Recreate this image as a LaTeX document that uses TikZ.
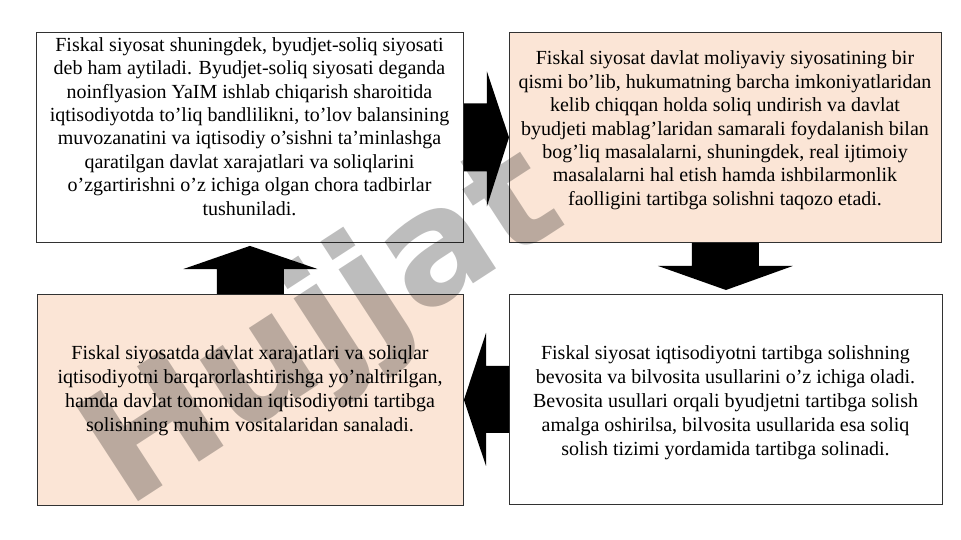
\documentclass[tikz,border=0pt]{standalone}
\usepackage{fontspec}
\setmainfont{Liberation Serif}
\newfontfamily\wmfont{DejaVu Sans}
\usetikzlibrary{calc}
\definecolor{peachc}{RGB}{251,229,214}
\definecolor{edgec}{RGB}{50,50,50}
\begin{document}
\begin{tikzpicture}[x=1pt,y=-1pt,
  box/.style={draw=edgec, line width=0.9pt, anchor=north west, inner sep=0pt, minimum height=210pt},
  txttop/.style={font=\fontsize{20}{23.4}\selectfont, align=center, inner sep=0pt, anchor=base},
  txtbot/.style={font=\fontsize{20}{24}\selectfont, align=center, inner sep=0pt, anchor=base},
  blockarrow/.style={fill=black}]
\useasboundingbox (0,0) rectangle (961,540);
\fill[white] (0,0) rectangle (961,540);
% boxes
\node[box, fill=white, minimum width=427pt] (b1) at (36,32) {};
\node[box, fill=peachc, minimum width=432pt] (b2) at (509,32) {};
\node[box, fill=peachc, minimum width=426pt, minimum height=211pt] (b3) at (37,294) {};
\node[box, fill=white, minimum width=433pt] (b4) at (509,294) {};
% watermark
\node[font=\wmfont\bfseries\fontsize{156}{156}\selectfont, text=black, text opacity=0.26, rotate=33, inner sep=0pt] (wm) at (325,330) {Hujjat};
% texts (base anchor = baseline of the last line)
\node[txttop] (t1) at (249.5,215.1) {Fiskal siyosat shuningdek, byudjet-soliq siyosati\\
deb ham aytiladi. Byudjet-soliq siyosati deganda\\
noinflyasion YaIM ishlab chiqarish sharoitida\\
iqtisodiyotda to’liq bandlilikni, to’lov balansining\\
muvozanatini va iqtisodiy o’sishni ta’minlashga\\
qaratilgan davlat xarajatlari va soliqlarini\\
o’zgartirishni o’z ichiga olgan chora tadbirlar\\
tushuniladi.};
\node[txttop] (t2) at (725,205.4) {Fiskal siyosat davlat moliyaviy siyosatining bir\\
qismi bo’lib, hukumatning barcha imkoniyatlaridan\\
kelib chiqqan holda soliq undirish va davlat\\
byudjeti mablag’laridan samarali foydalanish bilan\\
bog’liq masalalarni, shuningdek, real ijtimoiy\\
masalalarni hal etish hamda ishbilarmonlik\\
faolligini tartibga solishni taqozo etadi.};
\node[txtbot] (t3) at (250,431.7) {Fiskal siyosatda davlat xarajatlari va soliqlar\\
iqtisodiyotni barqarorlashtirishga yo’naltirilgan,\\
hamda davlat tomonidan iqtisodiyotni tartibga\\
solishning muhim vositalaridan sanaladi.};
\node[txtbot] (t4) at (725.5,455.3) {Fiskal siyosat iqtisodiyotni tartibga solishning\\
bevosita va bilvosita usullarini o’z ichiga oladi.\\
Bevosita usullari orqali byudjetni tartibga solish\\
amalga oshirilsa, bilvosita usullarida esa soliq\\
solish tizimi yordamida tartibga solinadi.};
% block arrows
% b1 -> b2 (right)
\fill[blockarrow] ($(b1.east)+(0,-34)$) -- ($(b1.east)+(23,-34)$) -- ($(b1.east)+(23,-66)$)
  -- (b2.west) -- ($(b1.east)+(23,69)$) -- ($(b1.east)+(23,34)$) -- ($(b1.east)+(0,34)$) -- cycle;
% b2 -> b4 (down)
\fill[blockarrow] ($(b2.south)+(-33.5,0)$) -- ($(b2.south)+(33.5,0)$) -- ($(b2.south)+(33.5,23)$)
  -- ($(b2.south)+(67.5,23)$) -- ($(b4.north)+(0,-4)$) -- ($(b2.south)+(-67.5,23)$)
  -- ($(b2.south)+(-33.5,23)$) -- cycle;
% b4 -> b3 (left)
\fill[blockarrow] ($(b4.west)+(0,-33.5)$) -- ($(b4.west)+(-23,-33.5)$) -- ($(b4.west)+(-23,-66.5)$)
  -- (b3.east) -- ($(b4.west)+(-23,66.5)$) -- ($(b4.west)+(-23,33.5)$) -- ($(b4.west)+(0,33.5)$) -- cycle;
% b3 -> b1 (up)
\fill[blockarrow] ($(b3.north)+(-33.5,0)$) -- ($(b3.north)+(-33.5,-25)$) -- ($(b3.north)+(-67,-25)$)
  -- ($(b1.south)+(0,3)$) -- ($(b3.north)+(67,-25)$) -- ($(b3.north)+(33.5,-25)$)
  -- ($(b3.north)+(33.5,0)$) -- cycle;
\end{tikzpicture}
\end{document}
